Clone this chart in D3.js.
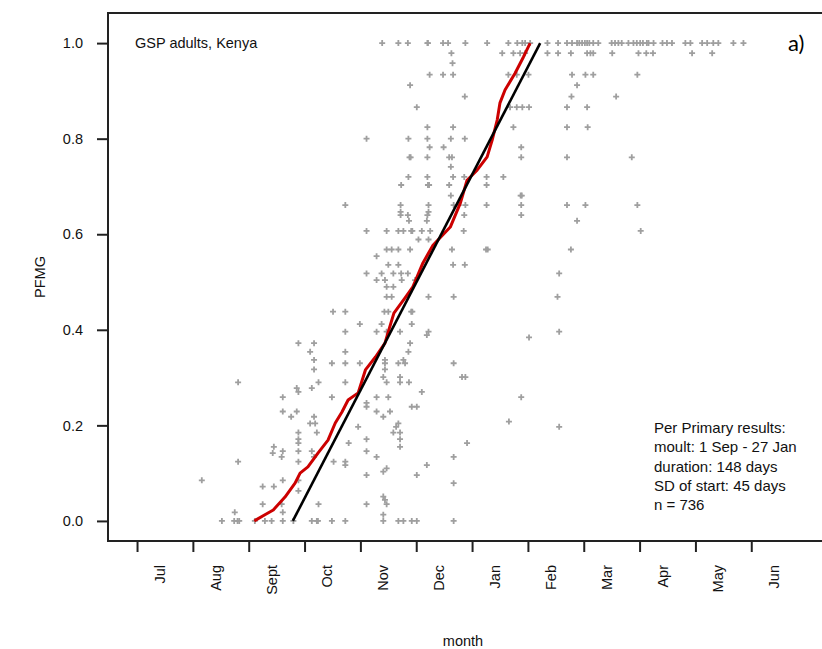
<!DOCTYPE html>
<html>
<head>
<meta charset="utf-8">
<script src="https://cdn.jsdelivr.net/npm/d3@7"></script>
<style>
  html, body { margin: 0; padding: 0; background: #fff; }
  svg text { font-family: "Liberation Sans", Arial, sans-serif; }
</style>
</head>
<body>
<svg id="chart" width="822" height="649"></svg>
<script>
// ---- Data (x in months since 1 July; y = PFMG) ----
const monthLabels = ["Jul","Aug","Sept","Oct","Nov","Dec","Jan","Feb","Mar","Apr","May","Jun"];
const yTicks = [0, 0.2, 0.4, 0.6, 0.8, 1.0];

// observed scores, grouped by PFMG value
const rowPfmg = [
  1.0, 0.979, 0.958, 0.934, 0.912, 0.888, 0.866, 0.824, 0.80, 0.782, 0.761, 0.741, 0.720, 0.703,
  0.681, 0.661, 0.647, 0.640, 0.628, 0.607, 0.589, 0.568, 0.554, 0.536, 0.518, 0.504, 0.490,
  0.469, 0.438, 0.412, 0.396, 0.389, 0.384, 0.372, 0.354, 0.337, 0.330, 0.317, 0.301, 0.290,
  0.278, 0.270, 0.259, 0.247, 0.239, 0.229, 0.218, 0.208, 0.204, 0.197, 0.185, 0.171, 0.163,
  0.155, 0.146, 0.142, 0.134, 0.124, 0.117, 0.110, 0.103, 0.096, 0.085, 0.079, 0.072, 0.063,
  0.051, 0.044, 0.035, 0.018, 0.013, 0.0
];
const rowMonths = [
  [4.39,4.68,4.85,5.20,5.21,5.48,5.57,5.88,6.27,6.65,6.81,6.90,6.95,7.04,7.35,7.54,7.70,7.79,7.88,7.92,7.97,8.02,8.06,8.10,8.17,8.26,8.50,8.56,8.62,8.68,8.80,8.89,8.95,9.01,9.06,9.13,9.16,9.25,9.41,9.49,9.58,9.82,9.91,10.12,10.21,10.32,10.41,10.68,10.86],
  [5.63,6.54,6.74,6.86,6.95,7.35,7.54,7.77,8.06,8.12,8.17,8.51,8.98,9.12,9.24,9.94,10.30],
  [5.65],
  [5.24,5.48,5.66,6.65,6.80,7.01,7.79,8.03,8.17,8.96],
  [4.89,7.88],
  [5.87,7.78,8.58],
  [5.01,6.68,6.80,6.90,7.02,7.70,8.06],
  [5.20,5.66,6.74,7.70,8.07],
  [4.11,4.86,5.20,5.62,5.87],
  [5.24,5.49,6.88],
  [4.88,4.90,5.20,5.59,5.64,6.88,7.70,8.86],
  [5.62],
  [4.86,5.20,5.66,5.86,6.26,6.56],
  [4.73,5.21,5.23,5.59,6.26],
  [5.62,6.87,6.89],
  [3.73,4.72,5.22,5.67,5.76,5.88,6.26,6.88,7.70,8.03,8.96],
  [4.72,5.22],
  [4.72,4.85,5.20,5.86,6.88],
  [4.87,5.19,7.88],
  [4.11,4.47,4.68,4.77,4.91,4.93,5.10,5.25,5.85,9.02],
  [5.04,5.22],
  [4.47,4.56,4.68,4.89,5.64,6.25,6.28,7.77],
  [4.29],
  [4.50,4.68,5.66,5.87],
  [4.11,4.38,4.59,4.73,4.85,7.56],
  [4.29,4.44,4.74,4.98],
  [4.47,4.59],
  [4.47,4.56,5.22,5.67,7.53],
  [3.51,3.73,4.43,4.50,4.91,4.93],
  [3.99,4.38,4.92],
  [3.73,4.29,4.47,4.71,5.22,7.56],
  [5.19],
  [7.02],
  [2.89,3.17,4.89],
  [3.10,3.73,4.86],
  [3.17,4.44,4.77],
  [3.49,3.73,3.99,4.44,4.68,4.80,5.67],
  [3.17,4.44],
  [4.41,4.71,5.82,5.88],
  [1.81,3.25,3.73,4.47,4.71,4.87],
  [2.86,3.13],
  [2.89,5.10],
  [2.61,3.49,4.29,4.50,6.88],
  [4.11],
  [4.11,4.92,5.01],
  [2.61,2.86,4.29,4.53],
  [2.76,3.17,4.41],
  [6.66],
  [3.10,3.19,4.68],
  [3.96,4.64,7.56],
  [2.89,3.22,4.59,4.71],
  [2.89,4.11,4.71],
  [2.89,3.79,5.91],
  [2.45,4.71],
  [2.61,2.89,3.13,4.11],
  [2.43],
  [2.59,3.17,4.29,5.67],
  [1.81,2.89,3.52,3.73],
  [3.73,5.19],
  [4.47],
  [4.41],
  [4.11,5.01],
  [1.16,2.61,2.89],
  [5.67],
  [2.25,2.45],
  [2.89],
  [4.41],
  [4.44],
  [2.25,2.59,3.25,4.11,4.47],
  [1.75,2.61],
  [4.41],
  [1.52,1.74,1.80,1.83,2.11,2.29,2.41,2.61,2.80,3.13,3.22,3.24,3.49,3.73,4.41,4.68,4.77,4.92,5.01,5.67]
];

// fitted curve (red) and per-primary model line (black)
const redMonths = [2.10,2.29,2.44,2.65,2.83,2.92,3.06,3.24,3.42,3.55,3.67,3.78,3.96,4.09,4.27,4.44,4.51,4.60,4.80,4.94,5.12,5.30,5.61,5.79,5.91,6.09,6.27,6.36,6.45,6.50,6.59,6.77,6.92,7.04];
const redPfmg   = [0,0.013,0.023,0.050,0.079,0.100,0.113,0.142,0.169,0.205,0.228,0.253,0.268,0.316,0.343,0.372,0.400,0.435,0.467,0.490,0.540,0.577,0.615,0.665,0.713,0.734,0.762,0.797,0.839,0.875,0.902,0.937,0.971,1.0];
const blackMonths = [2.79, 7.22];
const blackPfmg   = [0, 1];

const titleText = "GSP adults, Kenya";
const panelLabel = "a)";
const resultLines = ["Per Primary results:", "moult: 1 Sep - 27 Jan", "duration: 148 days", "SD of start: 45 days", "n = 736"];

// ---- Drawing ----
const svg = d3.select("#chart");
const pLeft = 108, pRight = 830, pTop = 13, pBottom = 541;
const x = d3.scaleLinear().domain([-0.52, 12.41]).range([pLeft, pRight]);
const y = d3.scaleLinear().domain([-0.042, 1.063]).range([pBottom, pTop]);
const fs = "14.5px";

// points
const pts = [];
rowPfmg.forEach((v, i) => rowMonths[i].forEach(m => pts.push([m, v])));
svg.append("g").selectAll("path").data(pts).join("path")
  .attr("transform", d => `translate(${x(d[0])},${y(d[1])})`)
  .attr("d", "M-3,0H3M0,-3V3")
  .attr("stroke", "#9f9f9f").attr("stroke-width", 1.8).attr("fill", "none");

const line = d3.line().x(d => x(d[0])).y(d => y(d[1]));
svg.append("path").datum(redMonths.map((m, i) => [m, redPfmg[i]]))
  .attr("d", line).attr("fill", "none").attr("stroke", "#cc0000").attr("stroke-width", 3)
  .attr("stroke-linejoin", "round");
svg.append("path").datum(blackMonths.map((m, i) => [m, blackPfmg[i]]))
  .attr("d", line).attr("fill", "none").attr("stroke", "#000").attr("stroke-width", 2.6);

// box
svg.append("path")
  .attr("d", `M${pRight},${pTop}H${pLeft}V${pBottom}H${pRight}`)
  .attr("fill", "none").attr("stroke", "#222").attr("stroke-width", 2);

// y axis
const yAxis = d3.axisLeft(y).tickValues(yTicks).tickSize(11).tickPadding(14).tickFormat(d3.format(".1f"));
const gy = svg.append("g").attr("transform", `translate(${pLeft},0)`).call(yAxis);
gy.select(".domain").remove();
gy.selectAll(".tick line").attr("stroke", "#222").attr("stroke-width", 2);
gy.selectAll(".tick text").attr("font-size", fs).attr("fill", "#111")
  .attr("font-family", "Liberation Sans, Arial, sans-serif");

// x axis
const xAxis = d3.axisBottom(x).tickValues(d3.range(monthLabels.length)).tickSize(11).tickFormat("");
const gx = svg.append("g").attr("transform", `translate(0,${pBottom})`).call(xAxis);
gx.select(".domain").remove();
gx.selectAll(".tick line").attr("stroke", "#222").attr("stroke-width", 2);

svg.append("g").selectAll("text").data(monthLabels).join("text")
  .attr("transform", (d, i) => `translate(${x(i + 0.5)},565) rotate(-90)`)
  .attr("text-anchor", "end")
  .attr("font-size", fs).attr("fill", "#111")
  .text(d => d);

// axis titles
svg.append("text").attr("x", 463).attr("y", 646).attr("text-anchor", "middle")
  .attr("font-size", fs).attr("fill", "#111").text("month");
svg.append("text").attr("transform", "translate(45,277) rotate(-90)").attr("text-anchor", "middle")
  .attr("font-size", fs).attr("fill", "#111").text("PFMG");

// annotations
svg.append("text").attr("x", 135).attr("y", 48).attr("font-size", fs).attr("fill", "#111").text(titleText);
svg.append("text").attr("x", 788).attr("y", 51).attr("font-size", "22px")
  .style("font-family", "Lato, 'Open Sans', sans-serif").attr("fill", "#000").text(panelLabel);
svg.append("g").selectAll("text").data(resultLines).join("text")
  .attr("x", 654).attr("y", (d, i) => 433 + i * 19.3)
  .attr("font-size", "15px").attr("fill", "#111").text(d => d);
</script>
</body>
</html>
